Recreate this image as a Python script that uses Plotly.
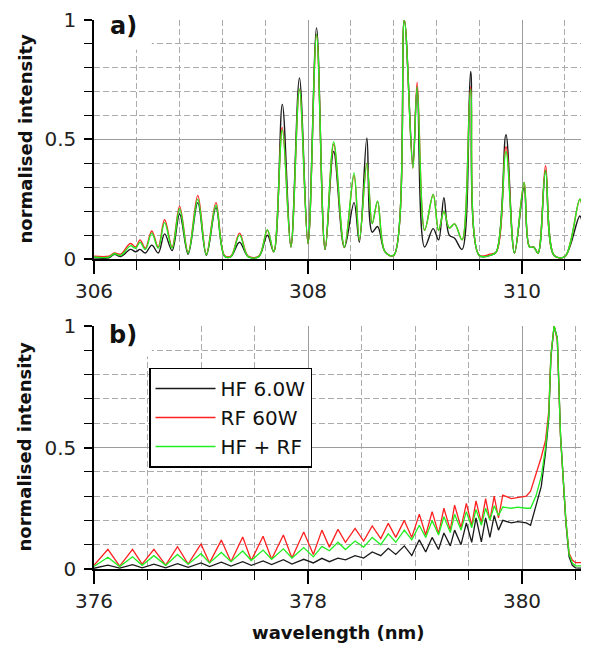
import plotly.graph_objects as go

# ---------------- data ----------------
# panel a) OH band, 306 - 310.6 nm
wl_a = [306.00, 306.14, 306.19, 306.25, 306.34, 306.39, 306.43, 306.48, 306.54, 306.60,
        306.66, 306.73, 306.80, 306.88, 306.97, 307.05, 307.14, 307.22, 307.28, 307.36,
        307.44, 307.54, 307.62, 307.68, 307.76, 307.84, 307.92, 308.00, 308.08, 308.16,
        308.24, 308.34, 308.43, 308.48, 308.55, 308.60, 308.65, 308.72, 308.80, 308.90,
        308.98, 309.02, 309.09, 309.17, 309.22, 309.27, 309.32, 309.37, 309.44, 309.52,
        309.60, 309.70, 309.76, 309.85, 309.93, 310.02, 310.07, 310.11, 310.15, 310.22,
        310.30, 310.40, 310.54, 310.57]
hf_a = [0.005, 0.005, 0.020, 0.010, 0.040, 0.030, 0.040, 0.025, 0.058, 0.025,
        0.105, 0.035, 0.188, 0.020, 0.236, 0.015, 0.215, 0.012, 0.010, 0.070,
        0.010, 0.010, 0.099, 0.030, 0.647, 0.050, 0.757, 0.065, 0.967, 0.040,
        0.450, 0.048, 0.236, 0.070, 0.506, 0.112, 0.136, 0.030, 0.015, 1.000,
        0.400, 0.720, 0.050, 0.127, 0.080, 0.256, 0.100, 0.087, 0.040, 0.785,
        0.015, 0.015, 0.030, 0.520, 0.025, 0.300, 0.050, 0.050, 0.025, 0.370,
        0.015, 0.010, 0.180, 0.120]
rf_a = [0.012, 0.012, 0.025, 0.020, 0.065, 0.050, 0.080, 0.045, 0.117, 0.050,
        0.165, 0.050, 0.220, 0.028, 0.266, 0.020, 0.236, 0.015, 0.012, 0.108,
        0.012, 0.012, 0.120, 0.030, 0.550, 0.050, 0.710, 0.065, 0.940, 0.040,
        0.480, 0.050, 0.350, 0.080, 0.400, 0.148, 0.240, 0.030, 0.015, 1.000,
        0.380, 0.740, 0.120, 0.270, 0.120, 0.200, 0.130, 0.147, 0.080, 0.720,
        0.015, 0.020, 0.030, 0.470, 0.025, 0.320, 0.050, 0.050, 0.025, 0.390,
        0.015, 0.010, 0.250, 0.200]
mix_a = [0.008, 0.008, 0.022, 0.015, 0.055, 0.045, 0.070, 0.040, 0.108, 0.045,
         0.152, 0.045, 0.210, 0.025, 0.250, 0.018, 0.225, 0.012, 0.010, 0.100,
         0.010, 0.010, 0.123, 0.030, 0.540, 0.050, 0.710, 0.065, 0.940, 0.040,
         0.490, 0.050, 0.360, 0.080, 0.400, 0.148, 0.243, 0.030, 0.015, 1.000,
         0.380, 0.720, 0.120, 0.270, 0.120, 0.200, 0.130, 0.147, 0.080, 0.710,
         0.015, 0.015, 0.030, 0.450, 0.025, 0.320, 0.050, 0.050, 0.025, 0.370,
         0.015, 0.010, 0.250, 0.200]

# panel b) N2 band, 376 - 380.6 nm
wl_b = [376.00, 376.13, 376.24, 376.36, 376.45, 376.56, 376.67, 376.78, 376.88, 377.00,
        377.08, 377.19, 377.28, 377.39, 377.47, 377.58, 377.66, 377.77, 377.85, 377.96,
        378.05, 378.13, 378.20, 378.28, 378.35, 378.44, 378.52, 378.60, 378.68, 378.75,
        378.82, 378.90, 378.97, 379.04, 379.10, 379.16, 379.22, 379.27, 379.33, 379.37,
        379.43, 379.48, 379.53, 379.57, 379.62, 379.66, 379.70, 379.74, 379.78, 379.82,
        379.90, 379.96, 380.04, 380.08, 380.13, 380.18, 380.22, 380.25, 380.27, 380.30,
        380.33, 380.36, 380.41, 380.44, 380.47, 380.50, 380.57]
hf_b = [0.003, 0.016, 0.004, 0.018, 0.005, 0.020, 0.005, 0.022, 0.007, 0.025,
        0.010, 0.028, 0.012, 0.030, 0.015, 0.033, 0.018, 0.038, 0.020, 0.040,
        0.025, 0.044, 0.030, 0.045, 0.038, 0.055, 0.045, 0.070, 0.055, 0.085,
        0.060, 0.095, 0.055, 0.120, 0.070, 0.130, 0.080, 0.148, 0.095, 0.160,
        0.100, 0.190, 0.110, 0.210, 0.112, 0.210, 0.130, 0.220, 0.160, 0.200,
        0.190, 0.195, 0.190, 0.180, 0.260, 0.340, 0.480, 0.620, 0.870, 1.000,
        0.950, 0.550, 0.190, 0.050, 0.015, 0.005, 0.003]
rf_b = [0.015, 0.081, 0.012, 0.081, 0.020, 0.081, 0.016, 0.092, 0.020, 0.103,
        0.025, 0.119, 0.030, 0.132, 0.035, 0.135, 0.040, 0.140, 0.045, 0.152,
        0.060, 0.160, 0.090, 0.163, 0.110, 0.167, 0.115, 0.177, 0.125, 0.188,
        0.130, 0.200, 0.130, 0.226, 0.140, 0.236, 0.145, 0.250, 0.160, 0.263,
        0.170, 0.270, 0.180, 0.280, 0.190, 0.290, 0.200, 0.300, 0.210, 0.304,
        0.290, 0.295, 0.300, 0.320, 0.390, 0.460, 0.530, 0.650, 0.880, 1.000,
        0.940, 0.545, 0.200, 0.065, 0.037, 0.026, 0.026]
mix_b = [0.010, 0.048, 0.010, 0.050, 0.015, 0.055, 0.015, 0.060, 0.020, 0.063,
         0.025, 0.068, 0.030, 0.074, 0.035, 0.078, 0.040, 0.083, 0.045, 0.088,
         0.050, 0.093, 0.075, 0.110, 0.080, 0.115, 0.090, 0.130, 0.100, 0.145,
         0.110, 0.160, 0.120, 0.180, 0.130, 0.200, 0.140, 0.215, 0.150, 0.225,
         0.160, 0.236, 0.170, 0.245, 0.180, 0.250, 0.200, 0.260, 0.220, 0.255,
         0.250, 0.255, 0.250, 0.250, 0.300, 0.380, 0.500, 0.630, 0.880, 1.000,
         0.950, 0.550, 0.200, 0.060, 0.025, 0.013, 0.013]

names = ['HF 6.0W', 'RF 60W', 'HF + RF']
colors = ['#1a1a1a', '#ff2020', '#22ee22']

FONT = 'DejaVu Sans'

fig = go.Figure()

# panel a
for ys, name, col in zip([hf_a, rf_a, mix_a], names, colors):
    fig.add_trace(go.Scatter(x=wl_a, y=ys, name=name, mode='lines',
                             line=dict(color=col, width=1.4, shape='spline', smoothing=1.0),
                             showlegend=False, xaxis='x', yaxis='y'))
# panel b
for ys, name, col in zip([hf_b, rf_b, mix_b], names, colors):
    fig.add_trace(go.Scatter(x=wl_b, y=ys, name=name, mode='lines',
                             line=dict(color=col, width=1.3),
                             showlegend=True, xaxis='x2', yaxis='y2'))


def axis_style(minor_dtick, major_len, minor_len, grid=True):
    return dict(showline=True, linecolor='black', linewidth=1.5, automargin=False,
                ticks='outside', ticklen=major_len, tickwidth=1.5, tickcolor='black',
                ticklabeloverflow='allow',
                showgrid=grid, gridcolor='#9c9c9c', gridwidth=1, zeroline=False,
                tickfont=dict(family=FONT, size=20, color='#222222'),
                minor=dict(dtick=minor_dtick, ticks='outside', ticklen=minor_len,
                           tickwidth=1.3, tickcolor='black', showgrid=True,
                           gridcolor='#ababab', gridwidth=1, griddash='6px,3px'))


# plot area is 549 px tall: panel b 243 px, gap 67 px, panel a 239 px
top_dom = [0.5647, 1.0]
bot_dom = [0.0, 0.4426]

xa = axis_style(0.4, 13, 9)
xa.update(domain=[0, 1], anchor='y', range=[306, 310.57], tick0=306, dtick=2)
ya = axis_style(0.1, 8, 8, grid=False)
ya.update(domain=top_dom, anchor='x', range=[0, 1], tick0=0, dtick=0.5, ticklabelstandoff=4)
xb = axis_style(0.5, 13, 9)
xb.update(domain=[0, 1], anchor='y2', range=[376, 380.57], tick0=376, dtick=2)
yb = axis_style(0.1, 8, 8, grid=False)
yb.update(domain=bot_dom, anchor='x2', range=[0, 1], tick0=0, dtick=0.5, ticklabelstandoff=4)

# page body adds an 8 px offset, so the figure is a bit smaller than the window
fig.update_layout(
    width=581, height=639,
    margin=dict(l=86, r=6, t=12, b=78),
    paper_bgcolor='white', plot_bgcolor='white',
    xaxis=xa, yaxis=ya, xaxis2=xb, yaxis2=yb,
    legend=dict(x=0.1125, y=0.367, xanchor='left', yanchor='top',
                bgcolor='white', bordercolor='black', borderwidth=1.5,
                font=dict(family=FONT, size=20, color='#111111'),
                itemwidth=60, tracegroupgap=0),
)

# solid horizontal grid at 0.5 (no grid line along the top edge)
for xr, yr, x0, x1 in (('x', 'y', 306, 310.57), ('x2', 'y2', 376, 380.57)):
    fig.add_shape(type='line', xref=xr, yref=yr, x0=x0, x1=x1, y0=0.5, y1=0.5,
                  line=dict(color='#9c9c9c', width=1), layer='between')

# white boxes behind the panel letters (cover the grid only)
fig.add_shape(type='rect', xref='x', yref='y', x0=306, x1=306.54, y0=0.875, y1=1.0,
              fillcolor='white', line=dict(width=0), layer='between')
fig.add_shape(type='rect', xref='x2', yref='y2', x0=376, x1=376.54, y0=0.875, y1=1.0,
              fillcolor='white', line=dict(width=0), layer='between')

title_font = dict(family=FONT, size=18, color='#111111', weight='bold')
fig.add_annotation(text='a)', xref='paper', yref='paper', x=0, y=top_dom[1],
                   xanchor='center', yanchor='middle', xshift=29, yshift=-6,
                   showarrow=False, font=dict(family=FONT, size=24, color='#111111', weight='bold'))
fig.add_annotation(text='b)', xref='paper', yref='paper', x=0, y=bot_dom[1],
                   xanchor='center', yanchor='middle', xshift=29, yshift=-9,
                   showarrow=False, font=dict(family=FONT, size=24, color='#111111', weight='bold'))
for dom in (top_dom, bot_dom):
    fig.add_annotation(text='normalised intensity', xref='paper', yref='paper',
                       x=0, y=(dom[0] + dom[1]) / 2, xshift=-69, textangle=-90,
                       xanchor='center', yanchor='middle', showarrow=False, font=title_font)
fig.add_annotation(text='wavelength (nm)', xref='paper', yref='paper', x=0.5, y=0,
                   xanchor='center', yanchor='middle', yshift=-63,
                   showarrow=False, font=title_font)

fig.write_html("out.html")
